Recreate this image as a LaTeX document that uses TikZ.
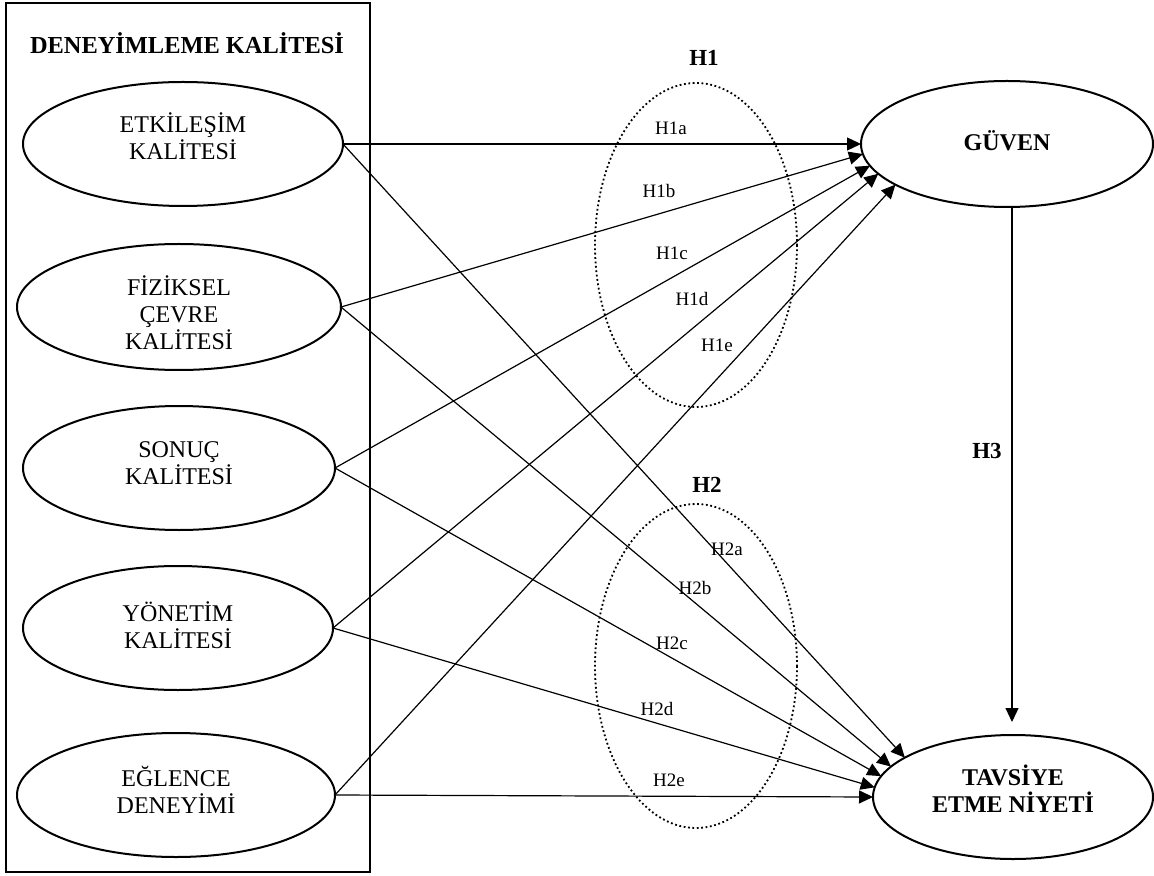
\documentclass[tikz,border=0pt]{standalone}
\usepackage{fontspec}
\setmainfont{Liberation Serif}
\usetikzlibrary{shapes.geometric,arrows.meta}
\begin{document}
\begin{tikzpicture}[x=0.5pt,y=-0.5pt,
  every node/.style={inner sep=0pt, outer sep=0pt},
  construct/.style={ellipse, draw, line width=1pt},
  ctext/.style={align=center, font=\fontsize{12}{13.6}\selectfont},
  btext/.style={align=center, font=\fontsize{12}{13.3}\selectfont\bfseries},
  hyp/.style={font=\fontsize{9.5}{11}\selectfont},
  hhead/.style={font=\fontsize{11.5}{13}\selectfont\bfseries},
  link/.style={line width=0.6pt, -{Triangle[length=7pt,width=6.5pt]}},
  hgroup/.style={draw, line width=0.9pt, dash pattern=on 0.9pt off 1.3pt}]
\useasboundingbox (0,0) rectangle (1154,876);
% outer frame
\draw[line width=0.75pt] (6,3) rectangle (370,872);
\node[font=\fontsize{12.2}{14}\selectfont\bfseries] (title) at (187,43) {DENEYİMLEME KALİTESİ};
% dotted groups
\draw[hgroup] (696,245) ellipse [x radius=101, y radius=162];
\draw[hgroup] (696,666) ellipse [x radius=101, y radius=162];
% constructs
\node[construct, minimum width=160pt, minimum height=62pt] (e1) at (183,144) {};
\node[construct, minimum width=162pt, minimum height=63pt] (e2) at (179,307) {};
\node[construct, minimum width=156pt, minimum height=62pt] (e3) at (179,468) {};
\node[construct, minimum width=155pt, minimum height=62pt] (e4) at (178,628) {};
\node[construct, minimum width=159pt, minimum height=62pt] (e5) at (176,795) {};
\node[construct, minimum width=146pt, minimum height=63pt] (guv) at (1007,144) {};
\node[construct, minimum width=140pt, minimum height=62pt] (tav) at (1013,797) {};
% construct texts
\node[ctext] (e1t) at (183,136) {ETKİLEŞİM\\KALİTESİ};
\node[ctext] (e2t) at (179,313) {FİZİKSEL\\ÇEVRE\\KALİTESİ};
\node[ctext] (e3t) at (179,463) {SONUÇ\\KALİTESİ};
\node[ctext] (e4t) at (178,625) {YÖNETİM\\KALİTESİ};
\node[ctext] (e5t) at (176,790) {EĞLENCE\\DENEYİMİ};
\node[btext] (guvt) at (1007,141) {GÜVEN};
\node[btext] (tavt) at (1013,789) {TAVSİYE\\ETME NİYETİ};
% connectors
\draw[link] (e1.east) -- (guv.180);
\draw[link] (e2.east) -- (guv.184);
\draw[link] (e3.east) -- (guv.189);
\draw[link] (e4.east) -- (guv.193);
\draw[link] (e5.east) -- (guv.200);
\draw[link] (e1.east) -- (tav.160);
\draw[link] (e2.east) -- (tav.166);
\draw[link] (e3.east) -- (tav.171);
\draw[link] (e4.east) -- (tav.176);
\draw[link] (e5.east) -- (tav.180);
\coordinate (h3end) at (1012,722);
\draw[link] (guv.south -| h3end) -- (h3end);
% labels
\node[hhead] (lh1) at (704,58) {H1};
\node[hhead] (lh2) at (707,485) {H2};
\node[hhead] (lh3) at (987,451) {H3};
\node[hyp] (h1a) at (671,128) {H1a};
\node[hyp] (h1b) at (659,191) {H1b};
\node[hyp] (h1c) at (672,253) {H1c};
\node[hyp] (h1d) at (692,299) {H1d};
\node[hyp] (h1e) at (717,345) {H1e};
\node[hyp] (h2a) at (727,549) {H2a};
\node[hyp] (h2b) at (695,588) {H2b};
\node[hyp] (h2c) at (672,643) {H2c};
\node[hyp] (h2d) at (657,709) {H2d};
\node[hyp] (h2e) at (669,780) {H2e};
\end{tikzpicture}
\end{document}
